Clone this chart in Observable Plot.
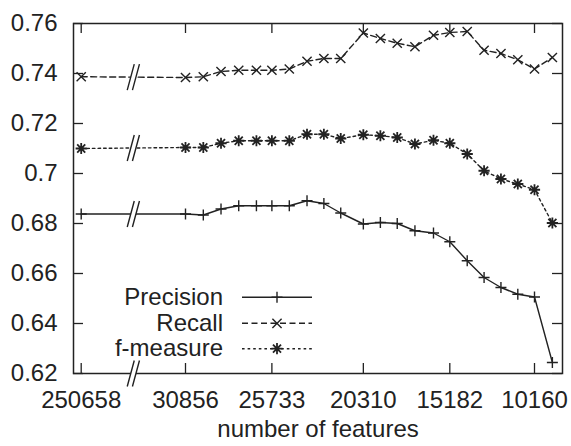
<!DOCTYPE html>
<html><head><meta charset="utf-8">
<script src="https://cdn.jsdelivr.net/npm/d3@7"></script>
<script src="https://cdn.jsdelivr.net/npm/@observablehq/plot@0.6"></script>
<style>html,body{margin:0;padding:0;background:#fff;} #chart{width:571px;height:446px;}</style>
</head><body><div id="chart"></div>
<script>
// ---- data ----
const features = [250658, 30856, 29800, 28750, 27700, 26650, 25733, 24700, 23650, 22650, 21650, 20310, 19300, 18300, 17250, 16150, 15182, 14150, 13150, 12150, 11150, 10160, 9100];
const precision = [0.6838, 0.6838, 0.6834, 0.6858, 0.6871, 0.6871, 0.6871, 0.6871, 0.6891, 0.6880, 0.6842, 0.6798, 0.6804, 0.6800, 0.6771, 0.6762, 0.6727, 0.6651, 0.6584, 0.6544, 0.6517, 0.6506, 0.6244];
const recall    = [0.7387, 0.7384, 0.7387, 0.7408, 0.7413, 0.7413, 0.7413, 0.7418, 0.7449, 0.7460, 0.7460, 0.7562, 0.7540, 0.7521, 0.7507, 0.7553, 0.7564, 0.7568, 0.7493, 0.7480, 0.7455, 0.7418, 0.7464];
const fmeasure  = [0.7100, 0.7104, 0.7104, 0.7121, 0.7131, 0.7131, 0.7131, 0.7131, 0.7157, 0.7157, 0.7140, 0.7155, 0.7151, 0.7144, 0.7118, 0.7133, 0.7121, 0.7078, 0.7011, 0.6978, 0.6958, 0.6935, 0.6802];
const seriesNames = ["Precision", "Recall", "f-measure"];
const xTicks = [250658, 30856, 25733, 20310, 15182, 10160];
const yTicks = [0.62, 0.64, 0.66, 0.68, 0.70, 0.72, 0.74, 0.76];
const xLabel = "number of features";

// ---- layout ----
const W = 571, H = 446, ML = 73, MR = 9, MT = 23, MB = 73;
const innerW = W - ML - MR, innerH = H - MT - MB;
const ink = "#222";
const font = "'Liberation Sans', Arial, Helvetica, sans-serif";
const TICK = 10;

// custom symbols (size = r*r*PI)
const rad = s => Math.sqrt(s / Math.PI);
const plusSym = {draw(c, s) { const r = rad(s); c.moveTo(-r, 0); c.lineTo(r, 0); c.moveTo(0, -r); c.lineTo(0, r); }};
const timesSym = {draw(c, s) { const r = rad(s); c.moveTo(-r, -r); c.lineTo(r, r); c.moveTo(-r, r); c.lineTo(r, -r); }};
const starSym = {draw(c, s) { const r = rad(s), d = r * 0.72; c.moveTo(-r, 0); c.lineTo(r, 0); c.moveTo(0, -r); c.lineTo(0, r); c.moveTo(-d, -d); c.lineTo(d, d); c.moveTo(-d, d); c.lineTo(d, -d); }};
const breakFill = {draw(c, s) { const h = rad(s), k = h * 0.27, g = 2.6; c.moveTo(-g - k, h); c.lineTo(-g + k, -h); c.lineTo(g + k, -h); c.lineTo(g - k, h); c.closePath(); }};
const breakLines = {draw(c, s) { const h = rad(s), k = h * 0.27, g = 2.6; c.moveTo(-g - k, h); c.lineTo(-g + k, -h); c.moveTo(g - k, h); c.lineTo(g + k, -h); }};

const seriesVals = [precision, recall, fmeasure];
const styles = [
  {dash: null, sym: plusSym, r: 5.5, sw: 1.4},
  {dash: "6,3.5", sym: timesSym, r: 4.6, sw: 1.4},
  {dash: "2.6,3", sym: starSym, r: 5.6, sw: 1.8}
];
const rows = seriesVals.map(vals => features.map((f, i) => ({f, v: vals[i]})));
const breakAt = (xTicks[0] + xTicks[1]) / 2;
const breakPts = seriesVals.map(vals => ({f: breakAt, v: (vals[0] + vals[1]) / 2})).concat([{f: breakAt, v: yTicks[0]}]);
const fmtY = d => String(+d.toFixed(2));

const marks = [Plot.frame({stroke: ink, strokeWidth: 1.5})];
// ticks (inward, mirrored)
marks.push(
  Plot.tickY(yTicks, {y: d => d, insetRight: innerW - TICK, stroke: ink, strokeWidth: 1.3}),
  Plot.tickY(yTicks, {y: d => d, insetLeft: innerW - TICK, stroke: ink, strokeWidth: 1.3}),
  Plot.tickX(xTicks, {x: d => d, insetTop: innerH - TICK, stroke: ink, strokeWidth: 1.3}),
  Plot.tickX(xTicks, {x: d => d, insetBottom: innerH - TICK, stroke: ink, strokeWidth: 1.3})
);
rows.forEach((data, k) => {
  const st = styles[k];
  marks.push(Plot.line(data, {x: "f", y: "v", stroke: ink, strokeWidth: 1.4, strokeDasharray: st.dash}));
});
rows.forEach((data, k) => {
  const st = styles[k];
  marks.push(Plot.dot(data, {x: "f", y: "v", symbol: st.sym, r: st.r, fill: "none", stroke: ink, strokeWidth: st.sw}));
});
marks.push(
  Plot.dot(breakPts, {x: "f", y: "v", symbol: breakFill, r: 13, fill: "white", stroke: "none"}),
  Plot.dot(breakPts, {x: "f", y: "v", symbol: breakLines, r: 13, fill: "none", stroke: ink, strokeWidth: 1.4}),
  Plot.axisY({ticks: yTicks, tickSize: 0, tickPadding: 16, tickFormat: fmtY, label: null, fill: ink}),
  Plot.axisX({ticks: xTicks, tickSize: 0, tickPadding: 17, tickFormat: d => String(d), label: null, fill: ink}),
  Plot.text([xLabel], {frameAnchor: "bottom", dy: 63, fill: ink})
);

const plot = Plot.plot({
  width: W, height: H,
  marginLeft: ML, marginRight: MR, marginTop: MT, marginBottom: MB,
  style: {fontFamily: font, fontSize: "24px", background: "#fff", color: ink},
  x: {type: "linear", domain: [xTicks[0], xTicks[1], xTicks[5]], range: [80.7, 185, 534]},
  y: {domain: [yTicks[0], yTicks[yTicks.length - 1]]},
  marks
});
document.getElementById("chart").appendChild(plot);

// ---- legend (inside the frame, lower left) ----
const svg = d3.select(plot.tagName.toLowerCase() === "svg" ? plot : plot.querySelector("svg"));
const lg = svg.append("g").attr("font-family", font).attr("font-size", 24).attr("fill", ink);
const rowY = [297.3, 323.3, 348.7];
seriesNames.forEach((name, k) => {
  const st = styles[k], y = rowY[k];
  lg.append("text").attr("x", 223).attr("y", y).attr("dy", "0.32em").attr("text-anchor", "end").text(name);
  lg.append("line").attr("x1", 242).attr("x2", 312).attr("y1", y).attr("y2", y)
    .attr("stroke", ink).attr("stroke-width", 1.4).attr("stroke-dasharray", st.dash);
  lg.append("path").attr("transform", `translate(277,${y})`)
    .attr("d", d3.symbol(st.sym, st.r * st.r * Math.PI)())
    .attr("fill", "none").attr("stroke", ink).attr("stroke-width", st.sw);
});
</script></body></html>
